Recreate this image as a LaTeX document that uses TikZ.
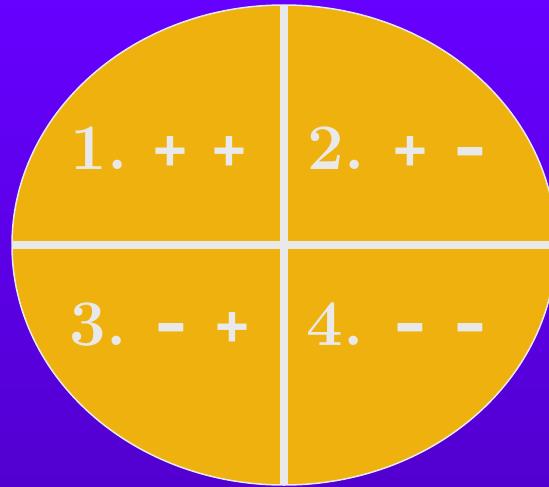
\documentclass[tikz,border=0pt]{standalone}
\usepackage{fontspec}
\newfontfamily\signfont{Liberation Sans}
\definecolor{bgtop}{RGB}{102,0,255}
\definecolor{bgbot}{RGB}{82,0,208}
\definecolor{gold}{RGB}{238,177,14}
\definecolor{chalk}{RGB}{233,233,233}
\tikzset{
  rim/.style={draw=chalk, line width=1.5pt},
  divider/.style={draw=chalk, line width=8pt},
  numtext/.style={text=chalk, inner sep=0pt, anchor=base, font=\fontsize{65}{65}\selectfont\bfseries},
  plussign/.style={text=chalk, inner sep=0pt, font=\signfont\bfseries\fontsize{58}{58}\selectfont},
  minussign/.style={text=chalk, inner sep=0pt, font=\signfont\bfseries\fontsize{50}{50}\selectfont}
}
\newcommand{\mysign}{\scalebox{1}[1.7]{–}}
\begin{document}
\begin{tikzpicture}[x=1pt,y=-1pt]
\useasboundingbox (0,0) rectangle (549,487);
\shade[top color=bgtop, bottom color=bgbot] (0,0) rectangle (549,487);
\fill[gold] (284,245) ellipse [x radius=272, y radius=240];
\begin{scope}
  \clip (284,245) ellipse [x radius=272, y radius=240];
  \draw[divider] (0,245) -- (549,245);
  \draw[divider] (284,0) -- (284,487);
\end{scope}
\draw[rim] (284,245) ellipse [x radius=272, y radius=240];
% quadrant 1
\node[numtext] (n1) at (99,169) {1.};
\node[plussign] (p1a) at (170,153) {+};
\node[plussign] (p1b) at (229,153) {+};
% quadrant 2
\node[numtext] (n2) at (336,169) {2.};
\node[plussign] (p2a) at (410,153) {+};
\node[minussign] (m2b) at (470,161) {\mysign};
% quadrant 3
\node[numtext] (n3) at (98,345) {3.};
\node[minussign] (m3a) at (171,337) {\mysign};
\node[plussign] (p3b) at (232,329) {+};
% quadrant 4
\node[numtext] (n4) at (335,345) {4.};
\node[minussign] (m4a) at (410,337) {\mysign};
\node[minussign] (m4b) at (470,337) {\mysign};
\end{tikzpicture}
\end{document}
